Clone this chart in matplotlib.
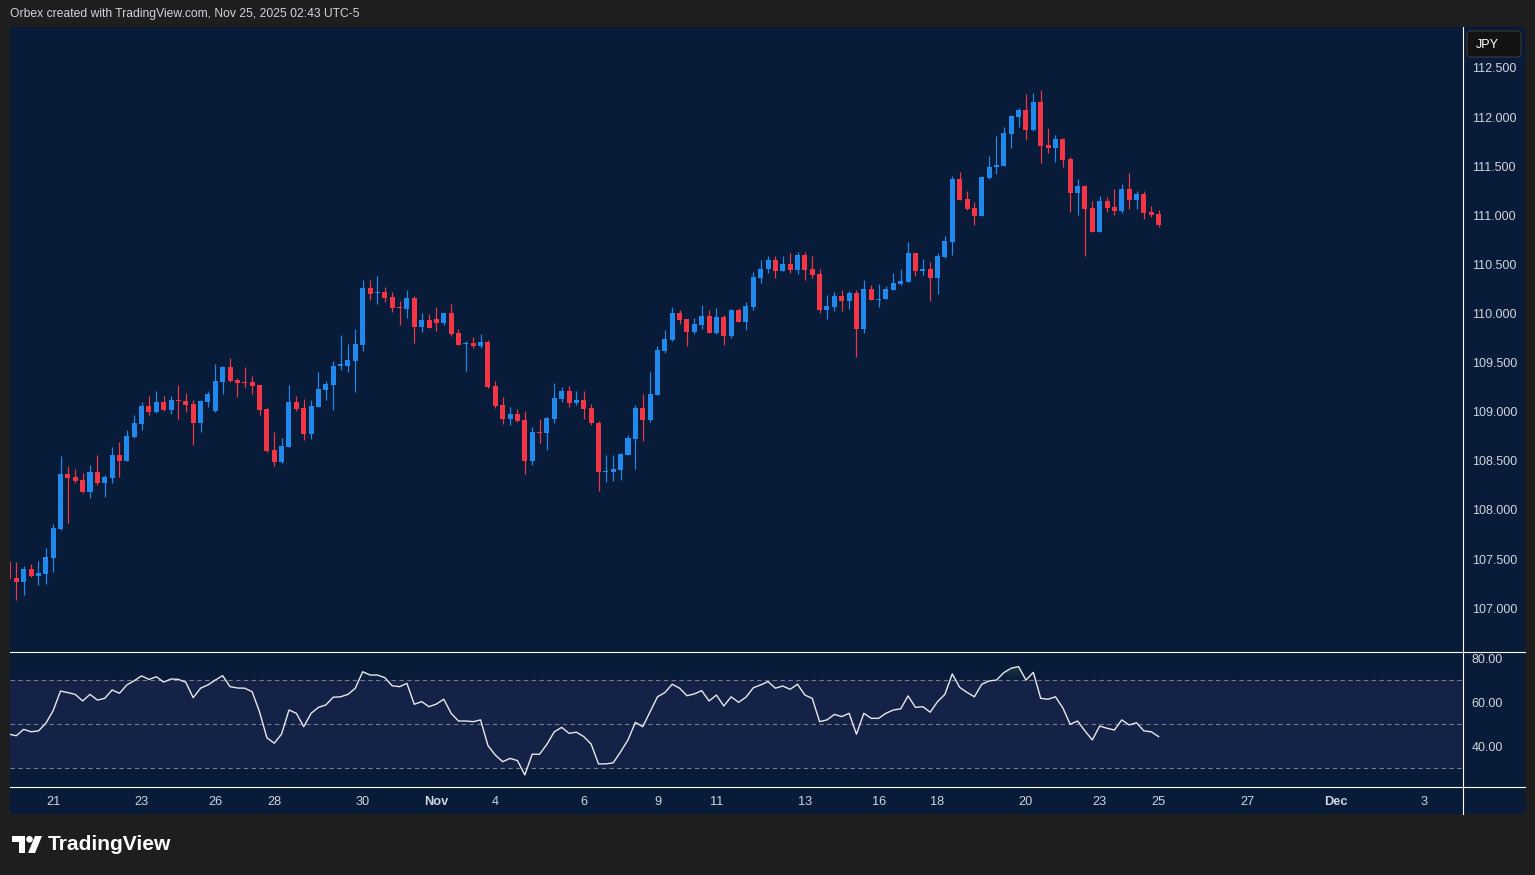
import numpy as np
import matplotlib
matplotlib.use('Agg')
import matplotlib.pyplot as plt
from matplotlib.patches import Rectangle, Polygon, Circle, FancyBboxPatch
from matplotlib.lines import Line2D
from matplotlib.colors import LinearSegmentedColormap
from matplotlib.path import Path
from matplotlib.transforms import Affine2D

plt.rcParams['font.family'] = ['Liberation Sans', 'DejaVu Sans']

# ---------------- data (4H candles, index -1 .. 155) ----------------
bar_index = list(range(-1, 156))
opens = [107.47, 107.31, 107.27, 107.40, 107.33, 107.35, 107.51, 107.81, 108.37, 108.33,
         108.30, 108.18, 108.39, 108.27, 108.32, 108.56, 108.50, 108.74, 108.87, 109.06,
         109.00, 109.10, 109.02, 109.12, 109.11, 109.08, 108.88, 109.10, 109.01, 109.30,
         109.46, 109.32, 109.30, 109.30, 109.27, 109.03, 108.61, 108.49, 108.64, 109.10,
         109.04, 108.77, 109.05, 109.22, 109.27, 109.47, 109.47, 109.52, 109.68, 110.26,
         110.21, 110.22, 110.17, 110.07, 110.05, 110.16, 109.86, 109.93, 109.94, 109.90,
         110.01, 109.80, 109.69, 109.70, 109.67, 109.71, 109.26, 109.07, 108.93, 108.98,
         108.92, 108.50, 108.79, 108.78, 108.93, 109.13, 109.21, 109.09, 109.12, 109.04,
         108.89, 108.39, 108.39, 108.41, 108.56, 108.72, 109.04, 108.92, 109.17, 109.62,
         109.73, 110.01, 109.94, 109.81, 109.88, 109.97, 109.80, 109.96, 109.77, 110.04,
         109.91, 110.07, 110.36, 110.45, 110.54, 110.43, 110.50, 110.44, 110.60, 110.45,
         110.40, 110.04, 110.07, 110.18, 110.13, 110.21, 109.84, 110.25, 110.14, 110.15,
         110.24, 110.30, 110.32, 110.62, 110.43, 110.45, 110.36, 110.58, 110.73, 111.37,
         111.17, 111.07, 110.99, 111.38, 111.49, 111.50, 111.83, 112.00, 112.07, 111.87,
         112.15, 111.72, 111.69, 111.78, 111.57, 111.23, 111.30, 111.07, 110.83, 111.15,
         111.08, 111.04, 111.27, 111.16, 111.22, 111.03, 111.01]
highs = [107.49, 107.47, 107.43, 107.45, 107.48, 107.61, 107.86, 108.55, 108.45, 108.42,
         108.38, 108.46, 108.56, 108.36, 108.64, 108.69, 108.81, 108.97, 109.10, 109.16,
         109.21, 109.16, 109.16, 109.27, 109.19, 109.12, 109.12, 109.21, 109.49, 109.47,
         109.55, 109.34, 109.46, 109.36, 109.27, 109.04, 108.79, 108.73, 109.27, 109.16,
         109.13, 109.12, 109.40, 109.31, 109.52, 109.78, 109.69, 109.84, 110.34, 110.34,
         110.38, 110.27, 110.22, 110.13, 110.24, 110.18, 110.01, 109.99, 110.07, 110.01,
         110.10, 109.84, 109.72, 109.76, 109.79, 109.73, 109.31, 109.15, 109.05, 109.03,
         109.01, 108.84, 108.93, 108.95, 109.29, 109.25, 109.26, 109.21, 109.21, 109.08,
         108.91, 108.56, 108.56, 108.58, 108.76, 109.07, 109.18, 109.40, 109.67, 109.83,
         110.07, 110.04, 109.94, 109.95, 110.09, 110.04, 110.06, 109.98, 110.05, 110.06,
         110.12, 110.42, 110.54, 110.59, 110.59, 110.59, 110.62, 110.63, 110.63, 110.59,
         110.45, 110.19, 110.22, 110.24, 110.23, 110.24, 110.34, 110.29, 110.30, 110.28,
         110.41, 110.45, 110.73, 110.62, 110.55, 110.52, 110.62, 110.79, 111.40, 111.44,
         111.25, 111.14, 111.40, 111.60, 111.81, 111.90, 112.02, 112.09, 112.24, 112.25,
         112.28, 111.89, 111.82, 111.79, 111.59, 111.37, 111.31, 111.15, 111.20, 111.19,
         111.27, 111.32, 111.43, 111.25, 111.25, 111.09, 111.05]
lows = [107.29, 107.08, 107.13, 107.32, 107.24, 107.25, 107.37, 107.80, 107.87, 108.27,
        108.17, 108.12, 108.25, 108.13, 108.27, 108.33, 108.50, 108.73, 108.81, 108.97,
        108.99, 109.01, 108.98, 108.93, 109.00, 108.66, 108.79, 109.05, 109.00, 109.18,
        109.30, 109.15, 109.24, 109.18, 108.97, 108.59, 108.45, 108.48, 108.64, 109.01,
        108.71, 108.72, 109.05, 109.12, 109.02, 109.42, 109.40, 109.20, 109.62, 110.14,
        110.10, 110.12, 110.02, 109.88, 109.95, 109.70, 109.81, 109.85, 109.82, 109.88,
        109.77, 109.68, 109.41, 109.65, 109.65, 109.24, 109.04, 108.87, 108.86, 108.90,
        108.37, 108.46, 108.68, 108.61, 108.89, 109.10, 109.05, 109.07, 108.93, 108.86,
        108.19, 108.28, 108.29, 108.30, 108.56, 108.42, 108.70, 108.90, 109.17, 109.60,
        109.72, 109.89, 109.67, 109.79, 109.84, 109.80, 109.79, 109.68, 109.75, 109.91,
        109.83, 110.04, 110.31, 110.41, 110.36, 110.43, 110.41, 110.40, 110.34, 110.36,
        110.01, 109.94, 110.03, 110.03, 110.05, 109.56, 109.80, 110.14, 110.07, 110.15,
        110.24, 110.29, 110.32, 110.38, 110.39, 110.13, 110.20, 110.57, 110.60, 111.16,
        111.05, 110.90, 110.99, 111.37, 111.42, 111.50, 111.69, 111.90, 111.77, 111.86,
        111.53, 111.63, 111.54, 111.49, 111.03, 111.00, 110.59, 110.83, 110.83, 111.03,
        111.00, 111.02, 111.06, 111.06, 110.96, 110.98, 110.88]
closes = [107.30, 107.27, 107.40, 107.33, 107.36, 107.52, 107.82, 108.37, 108.32, 108.29,
          108.18, 108.39, 108.27, 108.33, 108.56, 108.50, 108.75, 108.88, 109.06, 109.00,
          109.10, 109.02, 109.12, 109.11, 109.07, 108.88, 109.11, 109.18, 109.31, 109.46,
          109.31, 109.29, 109.29, 109.26, 109.02, 108.60, 108.49, 108.65, 109.10, 109.03,
          108.77, 109.06, 109.23, 109.28, 109.47, 109.48, 109.53, 109.69, 110.26, 110.20,
          110.22, 110.16, 110.06, 110.06, 110.16, 109.86, 109.93, 109.85, 109.90, 110.01,
          109.79, 109.68, 109.70, 109.67, 109.71, 109.25, 109.06, 108.93, 108.98, 108.91,
          108.50, 108.79, 108.78, 108.94, 109.14, 109.21, 109.09, 109.12, 109.03, 108.88,
          108.39, 108.40, 108.42, 108.57, 108.73, 109.04, 108.92, 109.18, 109.63, 109.74,
          110.01, 109.93, 109.81, 109.89, 109.97, 109.80, 109.96, 109.77, 110.04, 109.91,
          110.08, 110.37, 110.45, 110.54, 110.43, 110.50, 110.44, 110.60, 110.44, 110.39,
          110.04, 110.08, 110.18, 110.13, 110.21, 109.84, 110.25, 110.14, 110.15, 110.25,
          110.31, 110.33, 110.62, 110.43, 110.45, 110.36, 110.59, 110.74, 111.37, 111.16,
          111.06, 110.99, 111.39, 111.49, 111.51, 111.84, 112.01, 112.07, 111.87, 112.15,
          111.71, 111.69, 111.78, 111.56, 111.23, 111.30, 111.06, 110.83, 111.15, 111.07,
          111.04, 111.27, 111.16, 111.22, 111.02, 111.00, 110.90]
rsi = [45.5, 44.8, 47.7, 46.6, 47.0, 50.4, 56.2, 65.1, 64.4, 63.6,
       60.6, 63.6, 61.0, 61.8, 65.6, 64.1, 67.9, 69.8, 72.0, 70.4,
       71.6, 69.2, 70.6, 70.4, 69.1, 62.1, 66.4, 67.9, 70.1, 72.1,
       67.1, 66.5, 66.4, 64.8, 55.7, 43.9, 41.4, 45.6, 56.5, 55.0,
       48.9, 55.0, 57.7, 58.8, 62.3, 62.5, 63.6, 66.4, 73.9, 72.4,
       72.4, 71.2, 67.5, 67.1, 68.6, 59.1, 60.3, 58.0, 59.2, 61.4,
       55.0, 51.5, 51.5, 51.2, 52.0, 40.3, 36.0, 33.0, 34.5, 33.5,
       27.0, 36.4, 36.4, 40.9, 46.6, 48.6, 45.9, 46.4, 44.4, 41.0,
       32.0, 32.0, 32.5, 37.5, 42.9, 50.9, 48.9, 55.7, 62.5, 64.4,
       68.2, 66.4, 63.0, 63.8, 65.3, 60.6, 63.3, 58.3, 62.5, 60.0,
       62.3, 66.6, 67.9, 69.4, 66.4, 67.4, 65.9, 68.2, 63.3, 61.8,
       51.2, 52.0, 54.5, 53.5, 55.0, 45.5, 55.0, 52.7, 52.7, 55.0,
       56.5, 57.0, 62.9, 57.7, 58.0, 55.5, 60.3, 63.6, 72.9, 66.8,
       64.5, 62.5, 68.2, 69.7, 70.1, 73.5, 75.5, 76.2, 70.1, 73.6,
       61.8, 61.4, 62.5, 57.5, 50.0, 51.5, 47.0, 42.9, 49.2, 48.2,
       47.4, 52.0, 49.7, 50.7, 47.0, 46.6, 44.4]

price_ticks = [107.0, 107.5, 108.0, 108.5, 109.0, 109.5, 110.0, 110.5, 111.0, 111.5, 112.0, 112.5]
rsi_ticks = [40, 60, 80]
time_tick_pos = [5, 17, 27, 35, 47, 57, 65, 77, 87, 95, 107, 117, 125, 137, 147, 155, 167, 179, 191]
time_tick_lab = ['21', '23', '26', '28', '30', 'Nov', '4', '6', '9', '11', '13', '16', '18',
                 '20', '23', '25', '27', 'Dec', '3']
month_labels = {'Nov', 'Dec'}

# ---------------- style ----------------
W, H = 1535, 875
OUTER = '#1e1e1e'
NAVY = '#081c3a'
UP = '#2189ec'
DOWN = '#f23645'
TXT = '#d1d4dc'
LINE = '#ffffff'

fig = plt.figure(figsize=(W / 100, H / 100), dpi=100)
fig.patch.set_facecolor(OUTER)
pxT = Affine2D().scale(1.0 / W, -1.0 / H).translate(0, 1) + fig.transFigure


def fx(px):
    return px / W


def fy(py):
    return 1 - py / H


fig.patches.append(Rectangle((10, 27), 1515, 787, transform=pxT, facecolor=NAVY,
                             edgecolor='none', zorder=-10))

XL = (-0.855, 196.3)
ax = fig.add_axes([fx(10), fy(652), fx(1463) - fx(10), fy(27) - fy(652)])
ax2 = fig.add_axes([fx(10), fy(787), fx(1463) - fx(10), fy(652) - fy(787)])
for a in (ax, ax2):
    a.set_facecolor(NAVY)
    a.set_zorder(1)
    for s in a.spines.values():
        s.set_visible(False)

# ---------------- candles ----------------
xs = np.array(bar_index, float)
o = np.array(opens); h = np.array(highs); l = np.array(lows); c = np.array(closes)
cols = [UP if cc >= oo else DOWN for oo, cc in zip(o, c)]
ax.vlines(xs, l, h, colors=cols, lw=0.85, zorder=2)
body_bot = np.minimum(o, c)
body_h = np.maximum(np.abs(c - o), 0.011)
ax.bar(xs, body_h, bottom=body_bot, width=0.68, color=cols, edgecolor='none', zorder=3)

ax.set_xlim(*XL)
ax.set_ylim(106.553, 112.9175)
ax.set_xticks([])
ax.yaxis.tick_right()
ax.set_yticks(price_ticks)
ax.set_yticklabels(['%.3f' % v for v in price_ticks])
ax.tick_params(axis='y', length=0, pad=6.3, labelsize=9, labelcolor=TXT)

# ---------------- RSI ----------------
r = np.array(rsi)
ax2.axhspan(30, 70, color=(126 / 255, 87 / 255, 194 / 255), alpha=0.1, lw=0, zorder=1)
for lev in (70, 50, 30):
    ax2.axhline(lev, color='#787b86', lw=0.8, ls=(0, (4, 3)), zorder=1.5)

fb = ax2.fill_between(xs, 70, r, where=r > 70, interpolate=True, facecolor='none',
                      edgecolor='none')
paths = fb.get_paths()
if len(paths):
    comp = Path.make_compound_path(*paths)
    cmap = LinearSegmentedColormap.from_list(
        'ob', [(0.298, 0.686, 0.314, 0.0), (0.298, 0.686, 0.314, 1.0)])
    img = ax2.imshow(np.linspace(0, 1, 256).reshape(-1, 1),
                     extent=[xs.min(), xs.max(), 70, 100], origin='lower',
                     aspect='auto', cmap=cmap, zorder=2, interpolation='bilinear')
    img.set_clip_path(comp, transform=ax2.transData)

ax2.plot(xs, r, color='#e8e8e8', lw=1.0, zorder=3)
ax2.set_xlim(*XL)
ax2.set_ylim(21.5, 82.86)
ax2.yaxis.tick_right()
ax2.set_yticks(rsi_ticks)
ax2.set_yticklabels(['%.2f' % v for v in rsi_ticks])
ax2.tick_params(axis='y', length=0, pad=6.3, labelsize=9, labelcolor=TXT)
ax2.set_xticks(time_tick_pos)
ax2.set_xticklabels(time_tick_lab)
ax2.tick_params(axis='x', length=0, pad=6.5, labelsize=9.2, labelcolor=TXT)
for t in ax2.get_xticklabels():
    if t.get_text() in month_labels:
        t.set_fontweight('bold')

# ---------------- separators ----------------
for xx, yy in (([10, 1525], [652, 652]), ([10, 1525], [787, 787]), ([1463, 1463], [27, 814])):
    fig.add_artist(Line2D(xx, yy, transform=pxT, color=LINE, lw=0.8, zorder=5))

# ---------------- texts ----------------
fig.text(10, 14, 'Orbex created with TradingView.com, Nov 25, 2025 02:43 UTC-5',
         transform=pxT, color=TXT, fontsize=8.7, ha='left', va='center')

fig.add_artist(FancyBboxPatch((1467, 31), 54, 26, boxstyle='round,pad=0,rounding_size=4',
                              transform=pxT, facecolor='#121212', edgecolor='#3a3a3a',
                              lw=0.8, zorder=6))
fig.text(1476, 44.5, 'JPY', transform=pxT, color='#ffffff', fontsize=9, ha='left',
         va='center', zorder=7)

# TradingView logo
fig.patches.append(Polygon([(12, 836), (25, 836), (25, 853), (19, 853), (19, 842), (12, 842)],
                           closed=True, transform=pxT, facecolor='#ffffff', edgecolor='none'))
fig.patches.append(Circle((29.5, 839.3), 3.3, transform=pxT, facecolor='#ffffff',
                          edgecolor='none'))
fig.patches.append(Polygon([(35, 836), (42, 836), (35, 853), (28, 853)], closed=True,
                           transform=pxT, facecolor='#ffffff', edgecolor='none'))
fig.text(48, 845, 'TradingView', transform=pxT, color='#ffffff', fontsize=15.1,
         fontweight='bold', ha='left', va='center')

fig.savefig('out.png', dpi=100, facecolor=fig.get_facecolor())
